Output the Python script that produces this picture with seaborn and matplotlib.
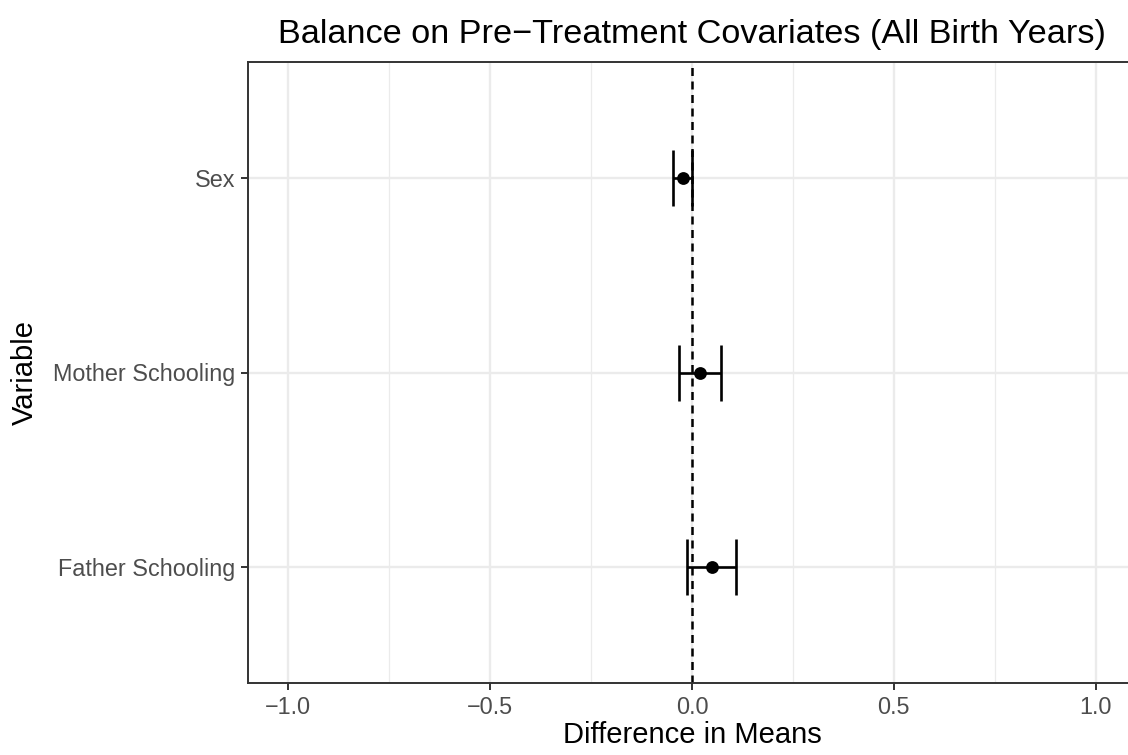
import matplotlib
matplotlib.use("Agg")
import matplotlib.pyplot as plt
import seaborn as sns
import pandas as pd
from matplotlib.ticker import MultipleLocator

# Balance estimates (difference in means with 95% CI)
variables = ["Father Schooling", "Mother Schooling", "Sex"]
estimates = [0.049, 0.020, -0.022]
ci_low = [-0.012, -0.032, -0.048]
ci_high = [0.108, 0.073, 0.000]

df = pd.DataFrame({"variable": variables, "estimate": estimates,
                   "lo": ci_low, "hi": ci_high})
df["pos"] = range(1, len(df) + 1)

sns.set_theme(style="white")
plt.rcParams['font.family'] = ['Liberation Sans', 'DejaVu Sans']

fig = plt.figure(figsize=(11.28, 7.55), dpi=100)
ax = fig.add_axes([248 / 1128, 72 / 755, (1136 - 248) / 1128, (683 - 62) / 755])

# grid lines like theme_bw
ax.set_xlim(-1.1, 1.1)
ax.set_ylim(0.4, 3.6)
ax.xaxis.set_major_locator(MultipleLocator(0.5))
ax.xaxis.set_minor_locator(MultipleLocator(0.25))
ax.grid(which="major", axis="both", color="#EBEBEB", lw=1.7, zorder=0)
ax.grid(which="minor", axis="x", color="#EBEBEB", lw=0.9, zorder=0)
ax.set_axisbelow(True)

ax.axvline(0, color="black", lw=1.8, ls=(0, (3.2, 2.2)), zorder=2)

ax.errorbar(df["estimate"], df["pos"],
            xerr=[df["estimate"] - df["lo"], df["hi"] - df["estimate"]],
            fmt="none", ecolor="black", elinewidth=1.9, capsize=20.5,
            capthick=1.9, zorder=3)
sns.scatterplot(data=df, x="estimate", y="pos", color="black", s=85,
                edgecolor="black", linewidth=0, zorder=4, ax=ax)

ax.set_yticks(df["pos"])
ax.set_yticklabels(df["variable"])

for side in ["left", "top", "bottom", "right"]:
    ax.spines[side].set_color("#333333")
    ax.spines[side].set_linewidth(1.4)

ax.tick_params(axis="both", which="major", length=5, width=1.4, color="#333333",
               labelcolor="#4D4D4D", labelsize=16.8, pad=4, bottom=True, left=True)
ax.tick_params(axis="x", which="minor", length=0)

ax.set_xlabel("Difference in Means", fontsize=21, color="black", labelpad=2)
ax.set_ylabel("Variable", fontsize=21, color="black", labelpad=10)
ax.set_title("Balance on Pre\u2212Treatment Covariates (All Birth Years)",
             fontsize=24.7, color="black", pad=14)

fig.savefig("out.png", dpi=100)
